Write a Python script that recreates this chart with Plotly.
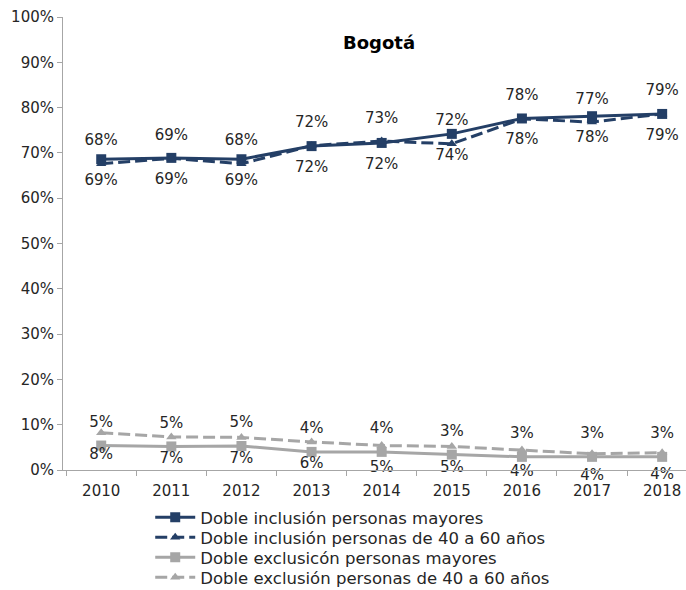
import plotly.graph_objects as go

years = ["2010", "2011", "2012", "2013", "2014", "2015", "2016", "2017", "2018"]
inc_mayores = [0.686, 0.689, 0.686, 0.715, 0.722, 0.742, 0.776, 0.781, 0.786]
inc_40_60 = [0.676, 0.688, 0.676, 0.716, 0.726, 0.720, 0.775, 0.768, 0.786]
exc_mayores = [0.054, 0.052, 0.053, 0.040, 0.040, 0.034, 0.029, 0.029, 0.029]
exc_40_60 = [0.082, 0.073, 0.072, 0.062, 0.054, 0.052, 0.044, 0.036, 0.038]
names = [
    "Doble inclusión personas mayores",
    "Doble inclusión personas de 40 a 60 años",
    "Doble exclusicón personas mayores",
    "Doble exclusión personas de 40 a 60 años",
]
y_ticks = [0, 0.1, 0.2, 0.3, 0.4, 0.5, 0.6, 0.7, 0.8, 0.9, 1.0]

NAVY = "#243F66"
GRAY = "#A6A6A6"
FONT = "DejaVu Sans"
TXT = "#262626"

fig = go.Figure()
series = [
    (inc_mayores, names[0], NAVY, "solid", "square", "bottom center"),
    (inc_40_60, names[1], NAVY, "12px,5px", "triangle-up", "top center"),
    (exc_mayores, names[2], GRAY, "solid", "square", "top center"),
    (exc_40_60, names[3], GRAY, "12px,5px", "triangle-up", "bottom center"),
]
legend_ids = ["legend", "legend2", "legend3", "legend4"]
for i, (vals, nm, col, dash, sym, tpos) in enumerate(series):
    fig.add_trace(go.Scatter(
        x=years, y=vals, name=nm, mode="lines+markers", legend=legend_ids[i],
        line=dict(color=col, width=3, dash=dash),
        marker=dict(symbol=sym, size=10 if sym == "square" else 9, color=col),
    ))
for vals, nm, col, dash, sym, tpos in series:
    fig.add_trace(go.Scatter(
        x=years, y=vals, mode="markers+text", showlegend=False, hoverinfo="skip",
        marker=dict(size=22, opacity=0, color=col),
        texttemplate="%{y:.0%}", textposition=tpos,
        textfont=dict(family=FONT, size=15, color=TXT),
        cliponaxis=False,
    ))

legend_layout = {}
for i, lid in enumerate(legend_ids):
    top_px = 500 + 20 * i
    legend_layout[lid] = dict(
        x=0.14, y=-(top_px - 470) / 453, xanchor="left", yanchor="top",
        font=dict(family=FONT, size=16.5, color=TXT), itemwidth=40,
        bgcolor="rgba(0,0,0,0)",
    )

fig.update_layout(
    width=686, height=590,
    margin=dict(l=63, r=0, t=17, b=120, autoexpand=False),
    paper_bgcolor="white", plot_bgcolor="white",
    font=dict(family=FONT, size=15, color=TXT),
    showlegend=True,
    annotations=[dict(text="<b>Bogotá</b>", x=(379 - 63) / 623, y=(470 - 43) / 453,
                      xref="paper", yref="paper", showarrow=False,
                      xanchor="center", yanchor="middle",
                      font=dict(family=FONT, size=18, color="black"))],
    **legend_layout,
)
fig.update_xaxes(type="category", range=[-0.545, 8.34], showline=True, linecolor="#A6A6A6",
                 linewidth=1, ticks="outside", tickson="boundaries", ticklen=5,
                 tickcolor="#A6A6A6", showgrid=False, ticklabelstandoff=7,
                 tickfont=dict(family=FONT, size=15, color=TXT))
fig.update_yaxes(range=[0, 1], tickvals=y_ticks, tickformat=".0%", showline=True,
                 linecolor="#A6A6A6", linewidth=1, ticks="outside", ticklen=5,
                 tickcolor="#A6A6A6", showgrid=False, zeroline=False,
                 tickfont=dict(family=FONT, size=15, color=TXT))

fig.write_html("out.html", config={"displayModeBar": False},
               post_script="document.body.style.margin='0px';document.body.style.overflow='hidden';")
